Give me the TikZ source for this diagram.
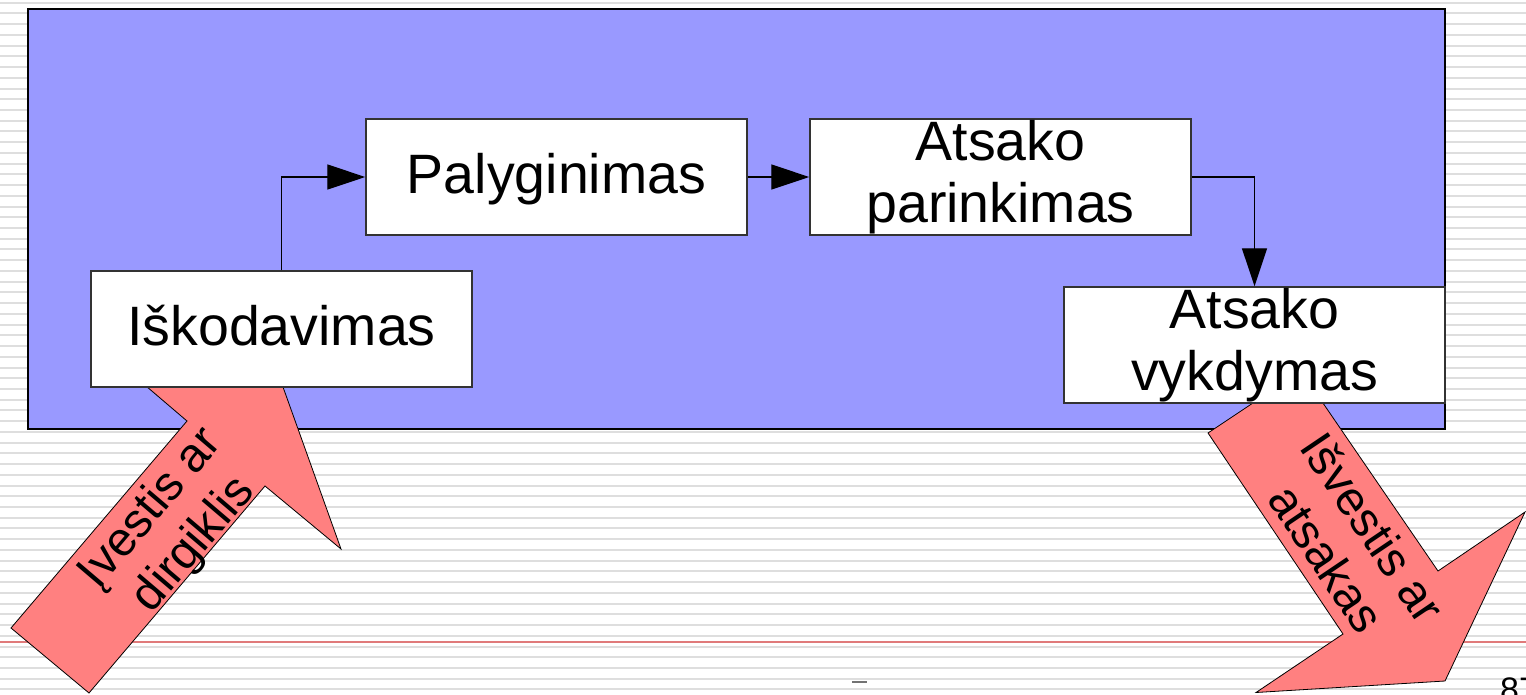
\documentclass[tikz,border=0pt]{standalone}
\usepackage{fontspec}
\setmainfont{Liberation Sans}
\usetikzlibrary{arrows.meta,calc}
\definecolor{bluefill}{RGB}{153,153,255}
\definecolor{redfill}{RGB}{255,128,128}
\definecolor{redline}{RGB}{224,122,122}
\definecolor{stripe}{RGB}{222,222,222}
\definecolor{boxline}{RGB}{51,51,51}
\begin{document}
\begin{tikzpicture}[x=1pt,y=-1pt,
  box/.style={draw=boxline, line width=1.5pt, fill=white, minimum width=381pt,
    minimum height=116pt, inner sep=0pt, font=\fontsize{55.5}{62}\selectfont, align=center},
  single/.style={text height=40pt, text depth=8pt},
  conn/.style={draw=black, line width=1.4pt, -{Triangle[length=38pt,width=25pt]}},
  bigarrow/.style={fill=redfill, draw=black, line width=0.8pt},
  albl/.style={font=\fontsize{48}{56}\selectfont, align=center, inner sep=0pt},
  stripeline/.style={draw=stripe, line width=2pt}]
\path[use as bounding box, clip] (0,0) rectangle (1526,694);
\fill[white] (0,0) rectangle (1526,694);
% striped background
\foreach \k in {0,...,64}{
  \draw[stripeline] (0,{2.7+10.73*\k}) -- (1526,{2.7+10.73*\k});
}
% footer rule and marks
\draw[redline, line width=2.5pt] (0,642) -- (1526,642);
\draw[black!55, line width=2pt] (852,682) -- (867,682);
\node[anchor=base west, font=\fontsize{34}{40}\selectfont, inner sep=0pt] (pg) at (1500,701) {87};
% panel
\path[fill=bluefill, draw=black, line width=2pt] (28,9) rectangle (1445,429);
% big block arrows
\draw[bigarrow] (11,628) -- (89,693) -- (265,486) -- (341,549) -- (283,387)
  -- (112,357) -- (187,421) -- cycle;
\draw[bigarrow] (1208,433) -- (1301,371) -- (1438,571) -- (1525,512) -- (1445,681)
  -- (1256,692.5) -- (1343,634) -- cycle;
% boxes
\node[box, single] (isk) at (281.5,329) {Iškodavimas};
\node[box, single] (pal) at (556.5,177) {Palyginimas};
\node[box] (par) at (1000.5,177) {Atsako\\parinkimas};
\node[box] (vyk) at (1254.5,345) {Atsako\\vykdymas};
% connectors
\draw[conn] (isk.north) |- (pal.west);
\draw[conn] (pal.east) -- (par.west);
\draw[conn] (par.east) -| (vyk.north);
% arrow labels
\node[albl, rotate=49.6] (inlbl) at (173,527) {Įvestis ar\\dirgiklis};
\node[albl, rotate=-56] (outlbl) at (1350,543) {Išvestis ar\\atsakas};
\end{tikzpicture}
\end{document}
